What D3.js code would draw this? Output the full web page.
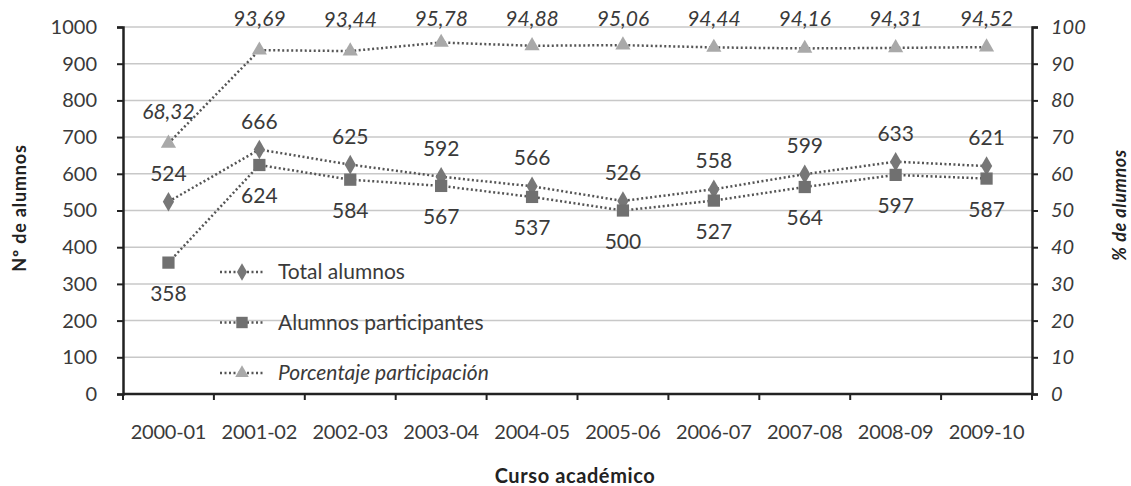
<!DOCTYPE html>
<html><head><meta charset="utf-8">
<script src="https://cdn.jsdelivr.net/npm/d3@7"></script>
<style>body{margin:0;background:#fff}svg{font-family:Lato,"Open Sans",sans-serif}</style>
</head><body><svg id="c" width="1131" height="486"></svg>
<script>
const categories=["2000-01","2001-02","2002-03","2003-04","2004-05","2005-06","2006-07","2007-08","2008-09","2009-10"];
const totalAlumnos=[524,666,625,592,566,526,558,599,633,621];
const participantes=[358,624,584,567,537,500,527,564,597,587];
const porcentaje=[68.32,93.69,93.44,95.78,94.88,95.06,94.44,94.16,94.31,94.52];
const leftTicks=[0,100,200,300,400,500,600,700,800,900,1000];
const rightTicks=[0,10,20,30,40,50,60,70,80,90,100];

const svg=d3.select("#c");
const L=123,R=1032,T=27,B=394;
const x=d3.scaleBand().domain(categories).range([L,R]);
const y=d3.scaleLinear().domain([0,1000]).range([B,T]);
const y2=d3.scaleLinear().domain([0,100]).range([B,T]);
const txt="#3a3a3a";
const fmt=v=>d3.format(".2f")(v).replace(".",",");

// gridlines
svg.append("g").selectAll("line").data(leftTicks.slice(1)).join("line")
 .attr("x1",L).attr("x2",R).attr("y1",d=>y(d)).attr("y2",d=>y(d))
 .attr("stroke","#c8c8c8").attr("stroke-width",1.5);

// axes
const ax=svg.append("g").attr("transform",`translate(${L},0)`).call(d3.axisLeft(y).tickValues(leftTicks).tickFormat(d3.format("d")).tickSize(6).tickPadding(20));
const ax2=svg.append("g").attr("transform",`translate(${R},0)`).call(d3.axisRight(y2).tickValues(rightTicks).tickSize(6).tickPadding(13));
const xa=svg.append("g").attr("transform",`translate(0,${B})`).call(d3.axisBottom(x).tickSize(6).tickPadding(25));
xa.selectAll(".tick line").remove();
xa.append("g").selectAll("line").data(d3.range(categories.length+1)).join("line")
 .attr("x1",i=>L+i*x.step()).attr("x2",i=>L+i*x.step()).attr("y1",0).attr("y2",6).attr("stroke","#222").attr("stroke-width",2);
[ax,ax2,xa].forEach(g=>{g.select(".domain").attr("stroke","#222").attr("stroke-width",2.5);
 g.selectAll(".tick line").attr("stroke","#222").attr("stroke-width",2);
 g.selectAll("text").attr("font-size",20).attr("fill",txt).attr("font-family","Lato,sans-serif");});
ax2.selectAll("text").attr("font-style","italic");
xa.selectAll("text").attr("font-size",20).attr("letter-spacing",-0.2);
xa.select(".domain").attr("d",`M${L},0H${R}`);

// titles
svg.append("text").attr("transform","translate(26,208) rotate(-90)").attr("text-anchor","middle")
 .attr("font-size",18).attr("font-weight","bold").attr("letter-spacing",0.8).attr("fill","#222").text("Nº de alumnos");
svg.append("text").attr("transform","translate(1126,205) rotate(-90)").attr("text-anchor","middle")
 .attr("font-size",18).attr("font-weight","bold").attr("font-style","italic").attr("letter-spacing",0.6).attr("fill","#222").text("% de alumnos");
svg.append("text").attr("x",575).attr("y",483).attr("text-anchor","middle")
 .attr("font-size",20).attr("font-weight","bold").attr("letter-spacing",0.6).attr("fill","#222").text("Curso académico");

const cx=d=>x(d)+x.bandwidth()/2;
const line=(arr,sc)=>d3.line().x((d,i)=>cx(categories[i])).y(d=>sc(d))(arr);
function series(arr,sc,sym,size,col){
 svg.append("path").attr("d",line(arr,sc)).attr("fill","none").attr("stroke","#555").attr("stroke-width",2.5).attr("stroke-dasharray","2,2.5");
 svg.append("g").selectAll("path").data(arr).join("path")
  .attr("transform",(d,i)=>`translate(${cx(categories[i])},${sc(d)})`)
  .attr("d",d3.symbol().type(sym).size(size)).attr("fill",col);
}
series(porcentaje,y2,d3.symbolTriangle,100,"#a9a9a9");
series(totalAlumnos,y,d3.symbolDiamond,110,"#777");
series(participantes,y,d3.symbolSquare,150,"#707070");

// labels
const lab=(arr,sc,pos,f,it)=>svg.append("g").selectAll("text").data(arr).join("text")
 .attr("x",(d,i)=>cx(categories[i])).attr("y",pos).attr("text-anchor","middle")
 .attr("font-size",21).attr("fill",txt).attr("font-style",it?"italic":"normal").text(f);
lab(totalAlumnos,y,d=>y(d)-21,d=>d,false);
lab(participantes,y,d=>y(d)+38,d=>d,false);
lab(porcentaje,y2,d=>Math.max(y2(d)-24,26),fmt,true);

// legend
const leg=[["Total alumnos",d3.symbolDiamond,90,"#777",false],["Alumnos participantes",d3.symbolSquare,130,"#707070",false],["Porcentaje participación",d3.symbolTriangle,80,"#a9a9a9",true]];
leg.forEach((d,i)=>{const yy=272+i*50.5;
 svg.append("line").attr("x1",220).attr("x2",264).attr("y1",yy).attr("y2",yy).attr("stroke","#555").attr("stroke-width",2.5).attr("stroke-dasharray","2,2.5");
 svg.append("path").attr("transform",`translate(242,${yy})`).attr("d",d3.symbol().type(d[1]).size(d[2])).attr("fill",d[3]);
 svg.append("text").attr("x",278).attr("y",yy+7).attr("font-size",21).attr("fill",txt).attr("font-style",d[4]?"italic":"normal").text(d[0]);
});
</script></body></html>
